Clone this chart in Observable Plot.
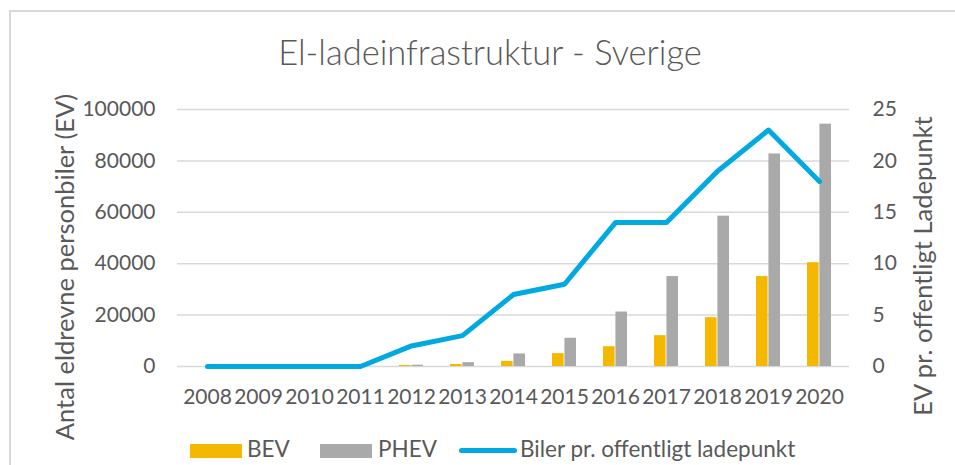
<!DOCTYPE html>
<html>
<head>
<meta charset="utf-8">
<script src="https://cdn.jsdelivr.net/npm/d3@7"></script>
<script src="https://cdn.jsdelivr.net/npm/@observablehq/plot@0.6"></script>
<style>
  html, body { margin: 0; padding: 0; background: #fff; }
  body { width: 955px; height: 465px; overflow: hidden; position: relative;
         font-family: Lato, "Open Sans", sans-serif; color: #595959; }
  #frame { position: absolute; left: 9px; top: 10px; width: 990px; height: 490px;
           border: 2px solid #d9d9d9; box-sizing: border-box; }
  #title { position: absolute; left: 0; top: 32px; width: 980px; text-align: center;
           font-size: 34.5px; font-weight: 300; line-height: 40px; white-space: nowrap; }
  #chart { position: absolute; left: 0; top: 88px; }
  .item { position: absolute; top: 436px; height: 25px; line-height: 25px; font-size: 22.5px; white-space: nowrap; }
  .sw { position: absolute; top: 8px; left: 0; width: 52px; height: 14px; }
  .ln { position: absolute; top: 12px; left: 0; width: 58px; height: 5px; border-radius: 3px; }
  .lab { position: absolute; top: 0; }
</style>
</head>
<body>
<div id="frame"></div>
<div id="title">El-ladeinfrastruktur - Sverige</div>
<div id="chart"></div>
<div id="legend"></div>
<script>
// ---- data ----
const years = ["2008","2009","2010","2011","2012","2013","2014","2015","2016","2017","2018","2019","2020"];
const bev = [0, 0, 0, 150, 400, 800, 2000, 5000, 7700, 12000, 19000, 35000, 40400];
const phev = [0, 0, 0, 50, 500, 1500, 4900, 11000, 21200, 35000, 58500, 82700, 94300];
const perPoint = [0, 0, 0, 0, 2, 3, 7, 8, 14, 14, 19, 23, 18];
const leftTicks = [0, 20000, 40000, 60000, 80000, 100000];
const rightTicks = [0, 5, 10, 15, 20, 25];
const seriesNames = ["BEV", "PHEV", "Biler pr. offentligt ladepunkt"];
const titles = {left: "Antal eldrevne personbiler (EV)", right: "EV pr. offentligt Ladepunkt"};

const colors = {BEV: "#f5b800", PHEV: "#a9a9a9", line: "#00a9e0"};
const ratio = leftTicks[leftTicks.length - 1] / rightTicks[rightTicks.length - 1];

const rows = years.map((year, i) => ({year, bev: bev[i], phev: phev[i], perPoint: perPoint[i]}));

const bandStep = (955 - 177 - 106) / years.length;
const half = bandStep * (1 - 0.52) / 2;

const chart = Plot.plot({
  width: 955,
  height: 340,
  marginTop: 21,
  marginBottom: 62,
  marginLeft: 177,
  marginRight: 106,
  style: {fontFamily: "Lato, 'Open Sans', sans-serif", fontSize: "21px", color: "#595959", background: "transparent", overflow: "visible"},
  x: {type: "band", domain: years, paddingInner: 0.52, paddingOuter: 0.26},
  y: {domain: [0, 100000]},
  marks: [
    Plot.ruleY(leftTicks, {stroke: "#d9d9d9", strokeWidth: 1.5}),
    Plot.barY(rows, {x: "year", y: "bev", fill: colors.BEV, insetRight: half}),
    Plot.barY(rows, {x: "year", y: "phev", fill: colors.PHEV, insetLeft: half}),
    Plot.lineY(rows, {x: "year", y: d => d.perPoint * ratio, stroke: colors.line, strokeWidth: 5,
                      strokeLinecap: "round", strokeLinejoin: "round"}),
    Plot.axisY(leftTicks, {anchor: "left", tickSize: 0, tickPadding: 22, tickFormat: d3.format("d"), label: null}),
    Plot.axisY(rightTicks.map(t => t * ratio), {anchor: "right", tickSize: 0, tickPadding: 23,
                tickFormat: d => String(d / ratio), label: null}),
    Plot.axisX({tickSize: 0, tickPadding: 23, label: null}),
    Plot.text([titles.left], {frameAnchor: "left", dx: -112, dy: 29, rotate: -90, fontSize: 25.5,
               textAnchor: "middle", lineAnchor: "middle", fill: "#595959"}),
    Plot.text([titles.right], {frameAnchor: "right", dx: 74, dy: 28, rotate: -90, fontSize: 25.5,
               textAnchor: "middle", lineAnchor: "middle", fill: "#595959"})
  ]
});
document.getElementById("chart").appendChild(chart);

// ---- legend ----
const legend = document.getElementById("legend");
const legendItems = [
  {name: seriesNames[0], color: colors.BEV, kind: "sw", left: 190, textLeft: 57},
  {name: seriesNames[1], color: colors.PHEV, kind: "sw", left: 320, textLeft: 58},
  {name: seriesNames[2], color: colors.line, kind: "ln", left: 459, textLeft: 61}
];
for (const it of legendItems) {
  const d = document.createElement("div");
  d.className = "item";
  d.style.left = it.left + "px";
  const s = document.createElement("div");
  s.className = it.kind;
  s.style.background = it.color;
  const t = document.createElement("span");
  t.className = "lab";
  t.style.left = it.textLeft + "px";
  t.textContent = it.name;
  d.appendChild(s);
  d.appendChild(t);
  legend.appendChild(d);
}
</script>
</body>
</html>
